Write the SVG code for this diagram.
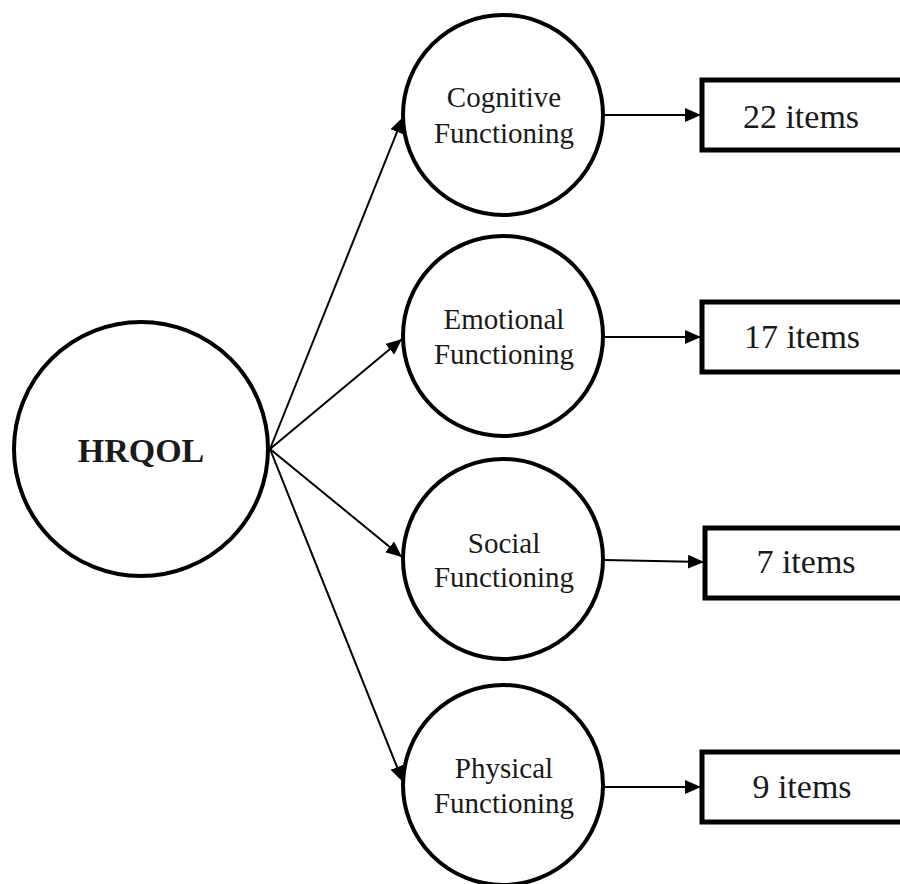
<svg xmlns="http://www.w3.org/2000/svg" width="900" height="884" viewBox="0 0 900 884">
<defs>
<marker id="ah" markerUnits="userSpaceOnUse" markerWidth="16" markerHeight="14" viewBox="0 0 16 14" refX="16" refY="7" orient="auto">
<path d="M0,0 L16,7 L0,14 Z" fill="#000"/>
</marker>
<style>
.c{fill:#fff;stroke:#000;stroke-width:4}
.b{fill:#fff;stroke:#000;stroke-width:5}
.t{font-family:"Liberation Serif","Times New Roman",serif;font-size:29px;fill:#1a1a1a;text-anchor:middle}
.bt{font-family:"Liberation Serif","Times New Roman",serif;font-size:34px;fill:#1a1a1a;text-anchor:middle}
.h{font-family:"Liberation Serif","Times New Roman",serif;font-size:34px;font-weight:bold;fill:#1a1a1a;text-anchor:middle}
.e{stroke:#000;stroke-width:2;fill:none;marker-end:url(#ah)}
</style>
</defs>
<rect width="900" height="884" fill="#fff"/>
<g id="connectors">
<line class="e" x1="270" y1="449" x2="403" y2="117"/>
<line class="e" x1="270" y1="449" x2="402" y2="339"/>
<line class="e" x1="270" y1="449" x2="402" y2="557"/>
<line class="e" x1="270" y1="449" x2="403" y2="782"/>
<line class="e" x1="604" y1="115" x2="701" y2="115"/>
<line class="e" x1="604" y1="337" x2="701" y2="337"/>
<line class="e" x1="604" y1="560" x2="704" y2="562"/>
<line class="e" x1="604" y1="787" x2="701" y2="787"/>
</g>
<g id="hrqol">
<circle class="c" cx="141" cy="449" r="127"/>
<text class="h" x="141" y="462">HRQOL</text>
</g>
<g id="cognitive">
<circle class="c" cx="503" cy="115" r="100"/>
<text class="t" x="504" y="107">Cognitive</text>
<text class="t" x="504" y="143">Functioning</text>
</g>
<g id="emotional">
<circle class="c" cx="503" cy="336" r="100"/>
<text class="t" x="504" y="329">Emotional</text>
<text class="t" x="504" y="364">Functioning</text>
</g>
<g id="social">
<circle class="c" cx="503" cy="559" r="100"/>
<text class="t" x="504" y="553">Social</text>
<text class="t" x="504" y="587">Functioning</text>
</g>
<g id="physical">
<circle class="c" cx="503" cy="785" r="100"/>
<text class="t" x="504" y="778">Physical</text>
<text class="t" x="504" y="813">Functioning</text>
</g>
<g id="box22">
<rect class="b" x="702" y="80" width="210" height="70"/>
<text class="bt" x="801" y="128">22 items</text>
</g>
<g id="box17">
<rect class="b" x="702" y="302" width="210" height="70"/>
<text class="bt" x="802" y="348">17 items</text>
</g>
<g id="box7">
<rect class="b" x="705" y="528" width="210" height="70"/>
<text class="bt" x="806" y="573">7 items</text>
</g>
<g id="box9">
<rect class="b" x="702" y="752" width="210" height="70"/>
<text class="bt" x="802" y="798">9 items</text>
</g>
</svg>
